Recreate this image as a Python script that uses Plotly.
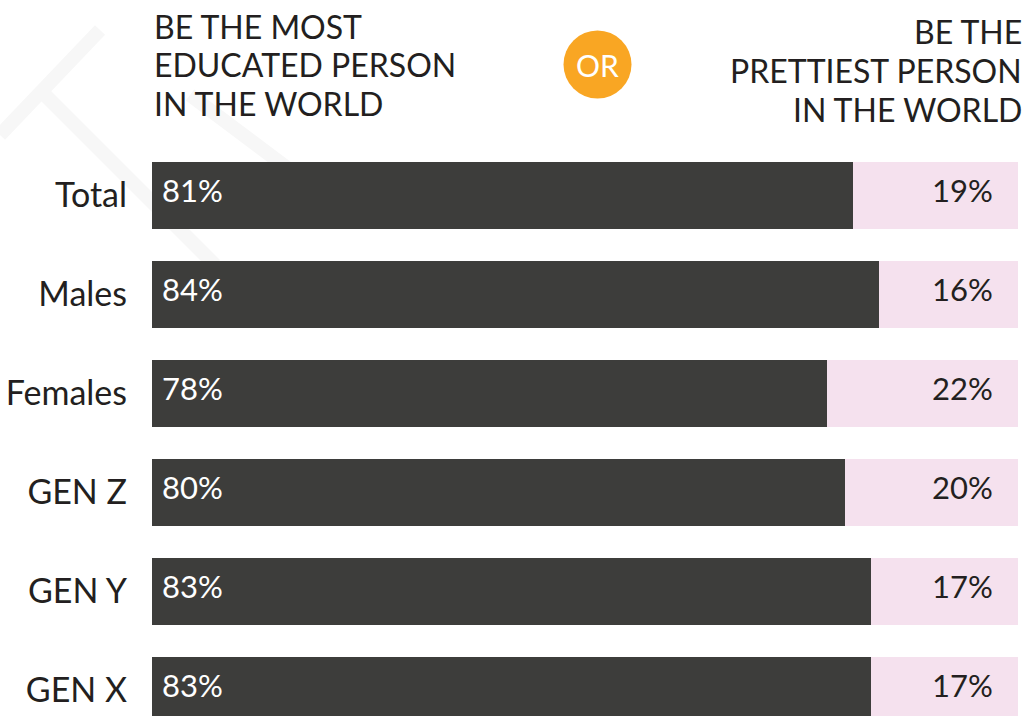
import plotly.graph_objects as go

categories = ["Total", "Males", "Females", "GEN Z", "GEN Y", "GEN X"]
educated = [81, 84, 78, 80, 83, 83]
prettiest = [19, 16, 22, 20, 17, 17]
header_left = ["BE THE MOST", "EDUCATED PERSON", "IN THE WORLD"]
header_right = ["BE THE", "PRETTIEST PERSON", "IN THE WORLD"]

DARK = "#3d3d3b"
PINK = "#f5e1ee"
TEXT = "#231f20"
ORANGE = "#f9a623"
FONT = "Lato"

W, H = 1029, 716
L, R, T, B = 152, 11, 146, 0
plot_w = W - L - R
plot_h = H - T - B
pitch = 99.0
y_top = -0.5
y_bottom = y_top + plot_h / pitch

fig = go.Figure()
fig.add_trace(go.Bar(y=categories, x=educated, orientation="h", marker=dict(color=DARK, line=dict(width=0)),
                     width=0.667, hoverinfo="skip"))
fig.add_trace(go.Bar(y=categories, x=prettiest, orientation="h", marker=dict(color=PINK, line=dict(width=0)),
                     width=0.667, hoverinfo="skip"))

annotations = []
for c, e, p in zip(categories, educated, prettiest):
    annotations.append(dict(x=0, y=c, xref="x", yref="y", text=f"{e}%", showarrow=False,
                            xanchor="left", yanchor="middle", xshift=8, yshift=6,
                            font=dict(family=FONT, size=31, color="white")))
    annotations.append(dict(x=100, y=c, xref="x", yref="y", text=f"{p}%", showarrow=False,
                            xanchor="right", yanchor="middle", xshift=-23, yshift=6,
                            font=dict(family=FONT, size=31, color=TEXT)))

def px_x(px):
    return (px - L) / plot_w

def px_y(py):
    return 1 - (py - T) / plot_h

left_ys = [28, 66, 105]
right_ys = [33, 72, 111]
for txt, yy in zip(header_left, left_ys):
    annotations.append(dict(x=px_x(152), y=px_y(yy), xref="paper", yref="paper", text=txt, showarrow=False,
                            xanchor="left", yanchor="middle", yshift=2,
                            font=dict(family=FONT, size=32, color=TEXT)))
for txt, yy in zip(header_right, right_ys):
    annotations.append(dict(x=px_x(1024), y=px_y(yy), xref="paper", yref="paper", text=txt, showarrow=False,
                            xanchor="right", yanchor="middle", yshift=2,
                            font=dict(family=FONT, size=32, color=TEXT)))

annotations.append(dict(x=px_x(597.5), y=px_y(64.5), xref="paper", yref="paper", text="OR", showarrow=False,
                        xanchor="center", yanchor="middle", yshift=0,
                        font=dict(family=FONT, size=30, color="white")))

shapes = [
    dict(type="circle", xref="paper", yref="paper", xsizemode="pixel", ysizemode="pixel",
         xanchor=px_x(597.5), yanchor=px_y(64.5), x0=-34, x1=34, y0=-34, y1=34,
         fillcolor=ORANGE, line=dict(width=0), layer="above"),
]
# faint watermark strokes
for (x0, y0, x1, y1) in [(0, 135, 100, 30), (45, 95, 215, 265), (190, 95, 310, 185)]:
    shapes.append(dict(type="line", xref="paper", yref="paper",
                       x0=px_x(x0), y0=px_y(y0), x1=px_x(x1), y1=px_y(y1),
                       line=dict(color="#f7f7f7", width=14), layer="below"))

fig.update_layout(
    width=W, height=H,
    margin=dict(l=L, r=R, t=T, b=B, pad=0),
    barmode="stack",
    bargap=0,
    showlegend=False,
    paper_bgcolor="white",
    plot_bgcolor="white",
    xaxis=dict(range=[0, 100], visible=False, fixedrange=True),
    yaxis=dict(type="category", categoryorder="array", categoryarray=categories,
               range=[y_bottom, y_top], showgrid=False, zeroline=False, showline=False,
               ticks="", ticklabelstandoff=24,
               tickfont=dict(family=FONT, size=34, color=TEXT), fixedrange=True),
    annotations=annotations,
    shapes=shapes,
)

fig.write_html("out.html", config={"displayModeBar": False})
